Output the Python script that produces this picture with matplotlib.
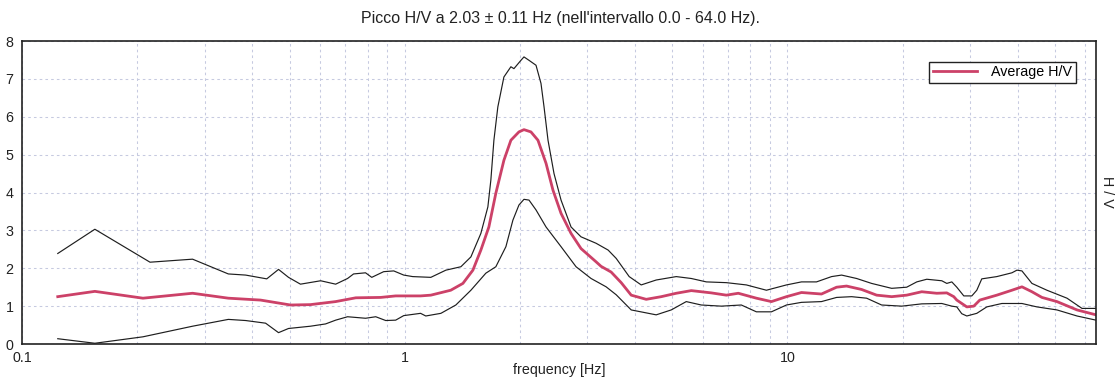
import numpy as np
import matplotlib
matplotlib.use("Agg")
import matplotlib.pyplot as plt
from matplotlib.ticker import LogLocator, NullFormatter, FixedLocator

plt.rcParams['font.family'] = ['Liberation Sans', 'DejaVu Sans']

#________________________________________________________________
# H/V spectral ratio: average curve and the +/- std envelope

title_text = "Picco H/V a 2.03 \u00b1 0.11 Hz (nell'intervallo 0.0 - 64.0 Hz)."
legend_label = "Average H/V"

freq_upper = [0.124, 0.155, 0.216, 0.279, 0.346, 0.384, 0.436, 0.468, 0.497, 0.534,
              0.603, 0.660, 0.709, 0.735, 0.790, 0.820, 0.881, 0.936, 0.994, 1.049,
              1.170, 1.281, 1.402, 1.489, 1.581, 1.649, 1.679, 1.710, 1.751, 1.816,
              1.894, 1.929, 2.012, 2.049, 2.112, 2.203, 2.270, 2.312, 2.368, 2.455,
              2.561, 2.720, 2.888, 3.162, 3.400, 3.569, 3.859, 4.148, 4.540, 5.122,
              5.607, 6.138, 6.923, 7.810, 8.811, 9.940, 10.88, 11.91, 13.04, 13.85,
              15.16, 16.59, 18.72, 20.49, 21.77, 23.12, 25.31, 26.08, 26.88, 27.70,
              28.89, 30.32, 31.24, 32.19, 35.24, 38.59, 39.77, 40.99, 43.53, 47.64,
              53.75, 58.83, 64.0]
hv_upper = [2.39, 3.03, 2.16, 2.24, 1.85, 1.82, 1.72, 1.97, 1.76, 1.58,
            1.67, 1.58, 1.73, 1.85, 1.88, 1.76, 1.91, 1.93, 1.82, 1.78,
            1.76, 1.95, 2.04, 2.30, 2.92, 3.62, 4.33, 5.38, 6.26, 7.05,
            7.32, 7.27, 7.49, 7.58, 7.49, 7.36, 6.88, 6.26, 5.38, 4.50,
            3.80, 3.09, 2.83, 2.66, 2.48, 2.26, 1.78, 1.56, 1.69, 1.78,
            1.73, 1.64, 1.62, 1.56, 1.42, 1.56, 1.64, 1.64, 1.78, 1.82,
            1.73, 1.60, 1.47, 1.50, 1.64, 1.71, 1.67, 1.60, 1.64, 1.50,
            1.27, 1.27, 1.42, 1.72, 1.78, 1.88, 1.95, 1.93, 1.60, 1.42,
            1.21, 0.94, 0.94]

freq_mean = [0.124, 0.155, 0.207, 0.279, 0.346, 0.420, 0.503, 0.567, 0.660, 0.745,
             0.865, 0.947, 1.10, 1.170, 1.319, 1.419, 1.507, 1.581, 1.659, 1.730,
             1.816, 1.894, 1.988, 2.049, 2.137, 2.229, 2.340, 2.440, 2.561, 2.720,
             2.888, 3.162, 3.259, 3.462, 3.678, 3.906, 4.275, 4.680, 5.122, 5.607,
             6.324, 6.923, 7.440, 8.295, 9.081, 9.940, 10.88, 12.27, 13.44, 14.27,
             15.62, 17.10, 18.72, 20.49, 22.43, 24.55, 26.08, 27.20, 27.70, 29.42,
             30.68, 31.81, 35.24, 38.59, 40.99, 43.53, 46.23, 50.60, 57.09, 64.0]
hv_mean = [1.25, 1.39, 1.21, 1.34, 1.21, 1.16, 1.03, 1.04, 1.12, 1.22,
           1.23, 1.27, 1.27, 1.29, 1.42, 1.60, 1.95, 2.48, 3.09, 3.98,
           4.85, 5.38, 5.60, 5.66, 5.60, 5.38, 4.77, 4.06, 3.45, 2.92,
           2.52, 2.17, 2.05, 1.90, 1.62, 1.29, 1.18, 1.25, 1.34, 1.41,
           1.35, 1.29, 1.34, 1.21, 1.12, 1.25, 1.36, 1.32, 1.50, 1.53,
           1.44, 1.29, 1.25, 1.29, 1.38, 1.34, 1.35, 1.25, 1.16, 0.98,
           1.00, 1.16, 1.29, 1.42, 1.51, 1.38, 1.23, 1.12, 0.90, 0.77]

freq_lower = [0.124, 0.155, 0.207, 0.279, 0.346, 0.384, 0.433, 0.468, 0.497, 0.567,
              0.621, 0.660, 0.709, 0.790, 0.840, 0.892, 0.947, 0.994, 1.10, 1.135,
              1.243, 1.360, 1.489, 1.629, 1.730, 1.838, 1.917, 1.988, 2.049, 2.112,
              2.203, 2.340, 2.561, 2.803, 3.068, 3.359, 3.569, 3.906, 4.540, 4.970,
              5.440, 5.955, 6.717, 7.577, 8.295, 9.081, 9.940, 10.88, 12.27, 13.44,
              14.71, 16.10, 17.62, 19.89, 22.43, 25.31, 26.88, 27.70, 28.54, 29.42,
              31.24, 33.18, 36.33, 40.99, 44.86, 50.60, 57.09, 64.0]
hv_lower = [0.14, 0.02, 0.19, 0.47, 0.65, 0.62, 0.55, 0.30, 0.41, 0.47,
            0.53, 0.63, 0.72, 0.68, 0.72, 0.62, 0.63, 0.75, 0.81, 0.74,
            0.81, 1.03, 1.42, 1.87, 2.04, 2.57, 3.27, 3.67, 3.82, 3.80,
            3.54, 3.09, 2.57, 2.04, 1.73, 1.51, 1.30, 0.90, 0.77, 0.90,
            1.12, 1.03, 1.00, 1.03, 0.85, 0.85, 1.03, 1.10, 1.12, 1.23,
            1.25, 1.21, 1.03, 1.00, 1.06, 1.07, 1.00, 0.98, 0.80, 0.74,
            0.81, 0.98, 1.07, 1.07, 0.98, 0.90, 0.74, 0.63]

y_ticks = [0, 1, 2, 3, 4, 5, 6, 7, 8]
x_ticks = [0.1, 1, 10]
x_tick_labels = ['0.1', '1', '10']

#________________________________________________________________

fig = plt.figure(figsize=(11.17, 3.8), dpi=100)
ax = fig.add_axes([0.0197, 0.0947, 0.9615, 0.7974])

ax.plot(freq_upper, hv_upper, color='#1e1e1e', linewidth=0.85)
ax.plot(freq_lower, hv_lower, color='#1e1e1e', linewidth=0.85)
ax.plot(freq_mean, hv_mean, color='#cc4168', linewidth=2.0, label=legend_label)

ax.set_xscale('log')
ax.set_xlim(0.1, 64)
ax.set_ylim(0, 8)

ax.xaxis.set_major_locator(FixedLocator(x_ticks))
ax.set_xticklabels(x_tick_labels)
ax.xaxis.set_minor_locator(LogLocator(base=10, subs=range(2, 10)))
ax.xaxis.set_minor_formatter(NullFormatter())
ax.set_yticks(y_ticks)

ax.tick_params(which='both', length=0, labelsize=10.3, colors='#222222')
ax.tick_params(axis='x', pad=5)
ax.tick_params(axis='y', pad=6)

grid_style = dict(color='#c6cae0', linestyle=(0, (2.5, 3)), linewidth=0.75)
ax.grid(True, which='major', **grid_style)
ax.grid(True, which='minor', axis='x', **grid_style)

for side in ['left', 'right', 'top', 'bottom']:
    ax.spines[side].set_color('#222222')
    ax.spines[side].set_linewidth(1.2)

fig.text(0.5005, 0.026, 'frequency [Hz]', ha='center', va='center',
         fontsize=10.3, color='#222222')
fig.text(0.991, 0.495, 'H / V', rotation=-90, ha='center', va='center',
         fontsize=10.3, color='#222222')
fig.text(0.502, 0.952, title_text, ha='center', va='center', fontsize=11.5,
         color='#222222')

leg = ax.legend(loc='upper right', bbox_to_anchor=(0.9814, 0.931),
                borderaxespad=0, handlelength=3.1, handletextpad=1.0,
                fontsize=10.3, fancybox=False, framealpha=1,
                edgecolor='#222222', borderpad=0.25)
leg.get_frame().set_linewidth(1.0)

plt.savefig('out.png', dpi=100)
